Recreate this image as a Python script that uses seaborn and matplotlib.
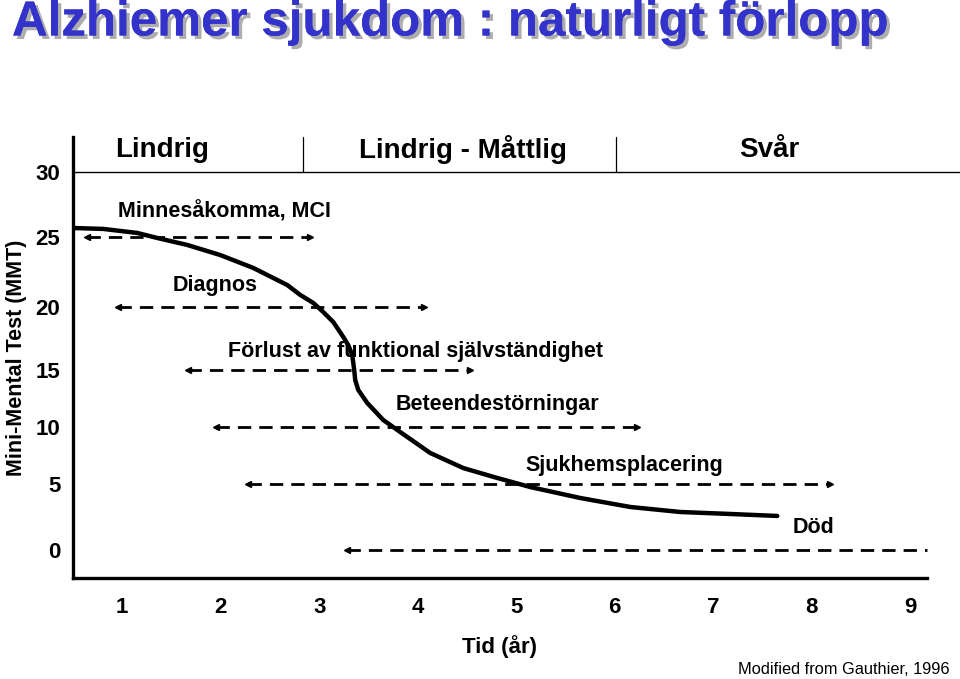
import matplotlib
matplotlib.use("Agg")
import matplotlib.pyplot as plt
import matplotlib.patheffects as pe
import seaborn as sns
import numpy as np
import pandas as pd

# ---- data ----
curve_x = [0.503, 0.807, 1.152, 1.355, 1.660, 1.995, 2.330, 2.675, 2.807, 2.939, 3.030,
           3.142, 3.244, 3.294, 3.335, 3.355, 3.365, 3.396, 3.487, 3.650, 3.822, 4.127,
           4.462, 4.807, 5.142, 5.650, 6.157, 6.665, 7.173, 7.650]
curve_y = [25.69, 25.62, 25.31, 24.93, 24.43, 23.71, 22.79, 21.57, 20.86, 20.29, 19.68,
           18.81, 17.62, 16.98, 16.19, 15.0, 14.12, 13.25, 12.11, 10.61, 9.56, 7.72,
           6.40, 5.53, 4.77, 3.94, 3.26, 2.88, 2.73, 2.58]

event_labels = ["Minnesåkomma, MCI", "Diagnos", "Förlust av funktional självständighet",
                "Beteendestörningar", "Sjukhemsplacering", "Död"]
event_start = [0.645, 0.959, 1.670, 1.954, 2.279, 3.284]
event_end = [2.909, 4.066, 4.533, 6.228, 8.188, 9.173]
event_level = [25, 20, 15, 10, 5, 0]
event_right_arrow = [True, True, True, True, True, False]
label_x = [0.959, 1.508, 2.076, 3.772, 5.09, 7.81]
label_y = [26.92, 21.5, 16.43, 11.93, 6.58, 1.74]

stage_labels = ["Lindrig", "Lindrig - Måttlig", "Svår"]
stage_centers = [1.406, 4.462, 7.568]
stage_bounds = [2.838, 6.015]

x_ticks = [1, 2, 3, 4, 5, 6, 7, 8, 9]
y_ticks = [0, 5, 10, 15, 20, 25, 30]
# relative vertical placement of the y ticks as drawn in the original (uneven spacing)
y_tick_height = [0, 66, 123, 180, 243, 313, 378]

sns.set_style("white")
plt.rcParams['font.family'] = ['Liberation Sans', 'DejaVu Sans']
for k in ['text.color', 'axes.labelcolor', 'xtick.color', 'ytick.color']:
    plt.rcParams[k] = 'black'

ext_vals = np.array([-5] + y_ticks + [35], dtype=float)
ext_h = np.array([-66] + y_tick_height + [443], dtype=float)

def fwd(v):
    return np.interp(v, ext_vals, ext_h, left=-66, right=443)

def inv(h):
    return np.interp(h, ext_h, ext_vals)

fig = plt.figure(figsize=(9.6, 6.79), dpi=100)
ax = fig.add_axes([73/960, 1-578/679, (927-73)/960, (578-137)/679])
ax.set_yscale('function', functions=(fwd, inv))

df = pd.DataFrame({"x": curve_x, "y": curve_y})
sns.lineplot(data=df, x="x", y="y", ax=ax, color="black", linewidth=3.2, sort=False,
             estimator=None)

for s, e, lv, ra in zip(event_start, event_end, event_level, event_right_arrow):
    ax.plot([s, e], [lv, lv], color="black", linewidth=2.0, dashes=(4.8, 2.9),
            clip_on=False, dash_capstyle='butt')
    ax.plot([s], [lv], marker='<', color='black', markersize=4.5, clip_on=False)
    if ra:
        ax.plot([e], [lv], marker='>', color='black', markersize=4.5, clip_on=False)

for lab, lx, ly in zip(event_labels, label_x, label_y):
    ax.text(lx, ly, lab, fontsize=15.5, fontweight='bold', ha='left', va='center')

# stage band
ax.plot([0.5, 9.5], [30, 30], color='black', linewidth=1.0, clip_on=False)
for b in stage_bounds:
    ax.plot([b, b], [30, 32.69], color='black', linewidth=0.9, clip_on=False)
for lab, cx in zip(stage_labels, stage_centers):
    ax.text(cx, 31.7, lab, fontsize=20, fontweight='bold', ha='center', va='center')

ax.set_xlim(0.5, 9.17)
ax.set_ylim(-2.12, 32.69)
ax.set_xticks(x_ticks)
ax.set_yticks(y_ticks)
ax.set_yticklabels([str(v) for v in y_ticks])
ax.minorticks_off()
ax.tick_params(axis='both', labelsize=16, width=2, direction='out')
ax.tick_params(axis='x', length=8, pad=6)
ax.tick_params(axis='y', length=6, pad=3)
for t in ax.get_xticklabels() + ax.get_yticklabels():
    t.set_fontweight('bold')
ax.set_xlabel("Tid (år)", fontsize=16, fontweight='bold', labelpad=12)
ax.set_ylabel("Mini-Mental Test (MMT)", fontsize=15.5, fontweight='bold', labelpad=6)
for side in ['top', 'right']:
    ax.spines[side].set_visible(False)
for side in ['left', 'bottom']:
    ax.spines[side].set_linewidth(2.4)
    ax.spines[side].set_color('black')
ax.grid(False)

fig.text(12/960, 1-23/679, "Alzhiemer sjukdom : naturligt förlopp", fontsize=35.5,
         fontweight='bold', color='#3333cc', ha='left', va='center',
         path_effects=[pe.withSimplePatchShadow(offset=(2.5, -2.5), shadow_rgbFace='#999999', alpha=0.8),
                       pe.Normal()])
fig.text(950/960, 1-669/679, "Modified from Gauthier, 1996", fontsize=11.8,
         ha='right', va='center')

fig.savefig("out.png", dpi=100)
